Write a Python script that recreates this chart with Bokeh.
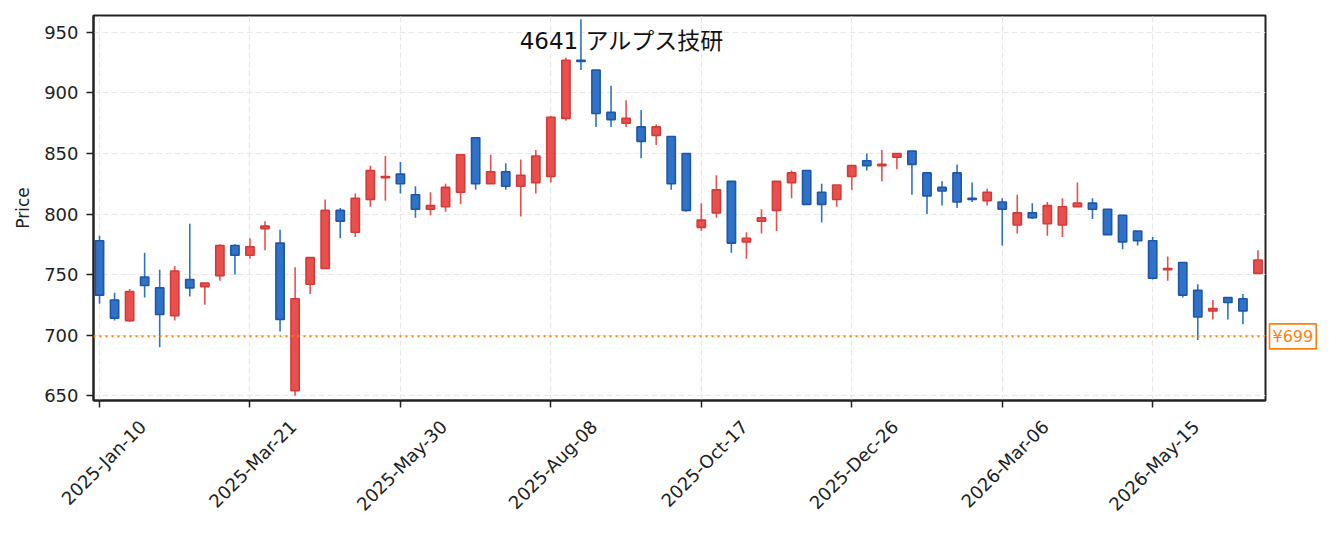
import math
import pandas as pd
from bokeh.plotting import figure
from bokeh.models import (Range1d, Label, Span, FixedTicker, ColumnDataSource, LinearAxis,
                          CustomLabelingPolicy)
from bokeh.embed import file_html
from bokeh.resources import INLINE

# ---- data (weekly candles) ----
title_text = "4641 アルプス技研"
start_date = "2025-01-10"
opens = [778, 729, 712, 748, 739, 716, 746, 740, 749, 774, 766, 788, 776, 654, 742, 755, 803, 785, 812, 830,
         833, 816, 804, 806, 818, 863, 825, 835, 823, 826, 831, 879, 927, 919, 884, 875, 872, 865, 864, 850,
         789, 801, 827, 777, 794, 803, 826, 836, 818, 812, 831, 844, 840, 847, 852, 834, 822, 834, 813, 811,
         810, 791, 801, 792, 791, 806, 809, 804, 799, 786, 778, 754, 760, 737, 720, 731, 730, 751]
highs = [782, 735, 738, 768, 754, 757, 792, 743, 775, 775, 780, 794, 787, 756, 764, 812, 805, 817, 840, 848,
         843, 823, 818, 825, 849, 863, 849, 842, 845, 853, 881, 929, 961, 919, 906, 894, 886, 874, 864, 850,
         809, 832, 827, 785, 804, 827, 836, 836, 825, 824, 840, 850, 853, 850, 852, 834, 827, 841, 826, 821,
         813, 816, 809, 810, 813, 826, 813, 804, 799, 786, 781, 765, 760, 742, 729, 731, 734, 770]
lows = [726, 712, 711, 731, 690, 712, 732, 725, 745, 750, 763, 770, 703, 650, 734, 755, 780, 781, 806, 811,
        817, 797, 799, 802, 808, 820, 825, 820, 798, 817, 826, 877, 919, 872, 872, 872, 846, 857, 820, 802,
        786, 797, 768, 763, 784, 786, 813, 808, 793, 806, 820, 836, 827, 837, 816, 800, 807, 805, 810, 807,
        774, 784, 796, 782, 781, 806, 796, 783, 771, 774, 746, 745, 731, 696, 713, 713, 709, 751]
closes = [733, 714, 736, 741, 717, 753, 739, 743, 774, 766, 773, 790, 713, 730, 764, 803, 794, 813, 836, 831,
          825, 804, 807, 822, 849, 825, 835, 823, 832, 848, 880, 927, 926, 883, 878, 879, 860, 872, 825, 803,
          795, 820, 776, 780, 797, 827, 834, 808, 808, 824, 840, 840, 841, 850, 841, 815, 819, 810, 812, 818,
          804, 801, 797, 807, 806, 809, 804, 783, 777, 778, 747, 755, 733, 715, 722, 727, 720, 762]
ref_price = 699
y_ticks = [650, 700, 750, 800, 850, 900, 950]
tick_step = 10

# ---- derived ----
n = len(opens)
dates = pd.date_range(start_date, periods=n, freq="7D")
idx = list(range(n))
up_fill, up_line = "#e8504d", "#d43a3a"
dn_fill, dn_line = "#2f72c8", "#1f56a8"
up = [c >= o for o, c in zip(opens, closes)]
src = ColumnDataSource(dict(
    x=idx,
    o=opens, h=highs, l=lows, c=closes,
    top=[max(o, c) for o, c in zip(opens, closes)],
    bot=[min(o, c) for o, c in zip(opens, closes)],
    fill=[up_fill if u else dn_fill for u in up],
    line=[up_line if u else dn_line for u in up],
    wick=[up_fill if u else dn_fill for u in up],
))

FONT = "DejaVu Sans"
p = figure(width=1321, height=525, output_backend="svg", toolbar_location=None,
           x_range=Range1d(-0.4, n - 0.5), y_range=Range1d(646, 964),
           min_border_left=93, min_border_right=56, min_border_top=15, min_border_bottom=122)

p.segment(x0="x", y0="l", x1="x", y1="h", line_color="wick", line_width=1.6, source=src)
p.vbar(x="x", width=0.55, top="top", bottom="bot", fill_color="fill", line_color="line",
       line_width=1.6, source=src)

p.add_layout(Span(location=ref_price, dimension="width", line_color="#ff7f0e",
                  line_dash="2 4", line_width=2))

# price tag placed in the right side panel so it is not clipped to the frame
p.add_layout(Label(x=n - 0.5, y=ref_price, x_offset=4, text="¥%d" % ref_price,
                   text_align="left", text_baseline="middle", text_color="#ff7f0e",
                   text_font=FONT, text_font_size="16px",
                   background_fill_color="white", border_line_color="#ff7f0e",
                   border_line_width=1.6, padding=3), "right")

p.add_layout(Label(x=34.7, y=943, text=title_text, text_align="center", text_baseline="middle",
                   text_color="#111111", text_font=FONT + ", Noto Sans CJK JP",
                   text_font_size="23px"))

# axes
tick_pos = list(range(0, n, tick_step))
label_shift = 2.875  # rotated labels centred under their ticks
hide_labels = CustomLabelingPolicy(code="""
for (const i of indices) { indices.unset(i) }
return indices
""")
p.xaxis.ticker = FixedTicker(ticks=tick_pos)
p.xaxis.major_label_policy = hide_labels
p.xaxis.major_label_text_font_size = "0px"
p.xaxis.major_label_standoff = 0
p.yaxis.ticker = FixedTicker(ticks=y_ticks)
p.yaxis.axis_label = "Price"
for ax in (p.xaxis[0], p.yaxis[0]):
    ax.axis_line_color = "#222222"
    ax.axis_line_width = 2
    ax.major_tick_line_color = "#222222"
    ax.major_tick_line_width = 1.5
    ax.major_tick_out = 7
    ax.major_tick_in = 0
    ax.minor_tick_line_color = None
p.yaxis.major_label_text_font = FONT
p.yaxis.major_label_text_font_size = "18px"
p.yaxis.major_label_text_color = "#222222"
p.yaxis.major_label_standoff = 8
p.yaxis.axis_label_text_font = FONT
p.yaxis.axis_label_text_font_size = "17px"
p.yaxis.axis_label_text_font_style = "normal"
p.yaxis.axis_label_text_color = "#222222"
p.yaxis.axis_label_standoff = 8

lab_ax = LinearAxis(ticker=FixedTicker(ticks=[t + label_shift for t in tick_pos]),
                    major_label_overrides={t + label_shift: dates[t].strftime("%Y-%b-%d") for t in tick_pos},
                    major_label_orientation=math.pi / 4,
                    major_label_text_font=FONT, major_label_text_font_size="18px",
                    major_label_text_color="#222222", major_label_standoff=16,
                    axis_line_color=None, major_tick_line_color=None, minor_tick_line_color=None,
                    major_tick_out=0, major_tick_in=0)
p.add_layout(lab_ax, "below")

p.grid.grid_line_color = "#e8e8e8"
p.grid.grid_line_dash = "6 3"
p.grid.grid_line_width = 1.2
p.outline_line_color = "#222222"
p.outline_line_width = 2
p.outline_line_alpha = 1
p.background_fill_color = "white"
p.border_fill_color = "white"

open("out.html", "w").write(file_html(p, INLINE))
